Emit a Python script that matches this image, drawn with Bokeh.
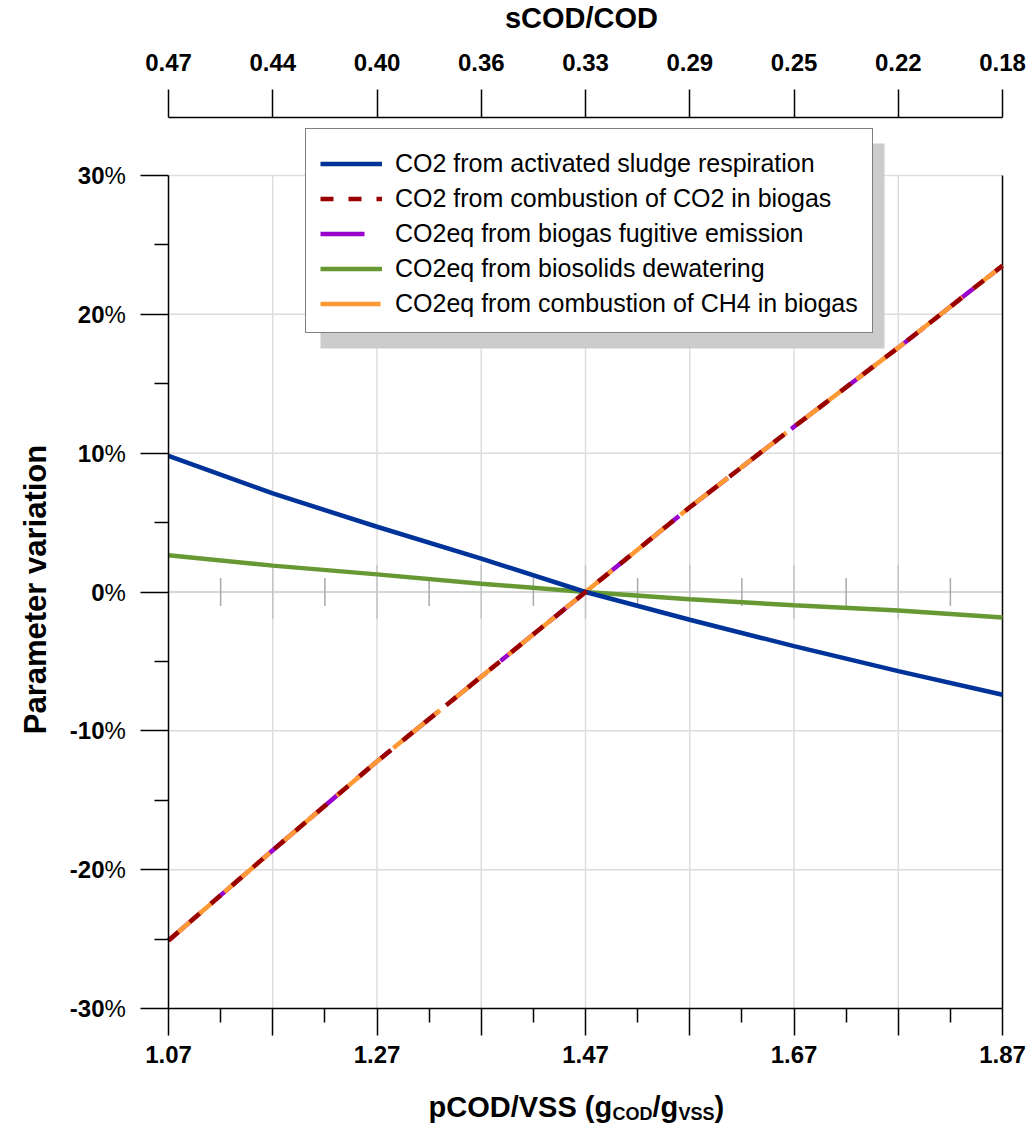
import math
from bokeh.plotting import figure
from bokeh.models import (Range1d, LinearAxis, FixedTicker, Legend, LegendItem,
                          BoxAnnotation, Label, LabelSet, ColumnDataSource)
from bokeh.core.properties import value
from bokeh.embed import file_html
from bokeh.resources import INLINE

# ---------------- data ----------------
pcod = [1.07, 1.17, 1.27, 1.37, 1.47, 1.57, 1.67, 1.77, 1.87]
scod_labels = ["0.47", "0.44", "0.40", "0.36", "0.33", "0.29", "0.25", "0.22", "0.18"]
pcod_minor = [1.12, 1.22, 1.32, 1.42, 1.52, 1.62, 1.72, 1.82]
pcod_shown = ["1.07", "", "1.27", "", "1.47", "", "1.67", "", "1.87"]

resp_co2 = [9.8, 7.1, 4.7, 2.4, 0.0, -2.0, -3.9, -5.7, -7.4]
comb_co2 = [-25.1, -18.6, -12.2, -6.1, 0.0, 6.1, 11.9, 17.6, 23.5]
fugitive = [-25.1, -18.6, -12.2, -6.1, 0.0, 6.1, 11.9, 17.6, 23.5]
dewater = [2.65, 1.9, 1.27, 0.6, 0.0, -0.53, -0.96, -1.33, -1.83]
comb_ch4 = [-25.1, -18.6, -12.2, -6.1, 0.0, 6.1, 11.9, 17.6, 23.5]

y_major = [-30, -20, -10, 0, 10, 20, 30]
y_minor = [-25, -15, -5, 5, 15, 25]
y_labels = ["-30", "-20", "-10", "0", "10", "20", "30"]

names = ["CO2 from activated sludge respiration",
         "CO2 from combustion of CO2 in biogas",
         "CO2eq from biogas fugitive emission",
         "CO2eq from biosolids dewatering",
         "CO2eq from combustion of CH4 in biogas"]

# ---------------- geometry helpers (page px -> data) ----------------
W, H = 1032, 1131
FL, FR, FT, FB = 168, 1002, 117, 1008   # plot area on page
Y30 = 175
XPX = (FR - FL) / (pcod[-1] - pcod[0])
YPX = (FB - Y30) / 60.0


def px_x(px):
    return pcod[0] + (px - FL) / XPX


def px_y(py):
    return -30 + (FB - py) / YPX


FONT = "Liberation Sans"

p = figure(width=W, height=H,
           x_range=Range1d(px_x(0), px_x(W)), y_range=Range1d(px_y(H), px_y(0)),
           output_backend="svg", toolbar_location=None,
           x_axis_type=None, y_axis_type=None,
           min_border_left=0, min_border_right=0, min_border_top=0, min_border_bottom=0)
p.outline_line_color = None
p.background_fill_color = "white"

# ---------------- grid lines ----------------
inner_x = pcod[1:-1]
p.segment(x0=inner_x, y0=[-30] * len(inner_x), x1=inner_x, y1=[30] * len(inner_x),
          line_color="#dddddd", line_width=1.5)
hy = [v for v in y_major if v not in (-30, 0)]
p.segment(x0=[pcod[0]] * len(hy), y0=hy, x1=[pcod[-1]] * len(hy), y1=hy,
          line_color="#dddddd", line_width=1.5)
p.segment(x0=[pcod[0]], y0=[0], x1=[pcod[-1]], y1=[0], line_color="#c8c8c8", line_width=1.5)
# ticks on the zero line
p.segment(x0=pcod_minor, y0=[-1.0] * len(pcod_minor), x1=pcod_minor, y1=[1.0] * len(pcod_minor),
          line_color="#a8a8a8", line_width=1.5)
p.segment(x0=inner_x, y0=[-1.95] * len(inner_x), x1=inner_x, y1=[1.95] * len(inner_x),
          line_color="#c4c4c4", line_width=1.5)
# right border
p.segment(x0=[pcod[-1]], y0=[-30], x1=[pcod[-1]], y1=[30], line_color="black", line_width=1.5)

# ---------------- series ----------------
r_fug = p.line(pcod, fugitive, line_color="#9900cc", line_width=4.5, line_dash="44 18")
r_ch4 = p.line(pcod, comb_ch4, line_color="#ff9933", line_width=4.5, line_dash="60 14")
r_dew = p.line(pcod, dewater, line_color="#669933", line_width=4.5)
r_resp = p.line(pcod, resp_co2, line_color="#003399", line_width=4.5)
r_co2 = p.line(pcod, comb_co2, line_color="#990000", line_width=4.5, line_dash="13 15")

# ---------------- axes ----------------
axis_style = dict(axis_line_width=1.5, axis_line_color="black",
                  major_tick_line_width=1.5, minor_tick_line_width=1.5,
                  major_tick_in=0, minor_tick_in=0,
                  major_label_text_font=FONT, major_label_text_font_style="bold",
                  major_label_text_font_size="24px", major_label_text_color="black")

left = LinearAxis(ticker=FixedTicker(ticks=y_major, minor_ticks=y_minor),
                  fixed_location=pcod[0], bounds=(-30, 30),
                  major_tick_out=28, minor_tick_out=14, major_label_standoff=36,
                  major_label_overrides=dict(zip(y_major, y_labels)), **axis_style)
p.add_layout(left, "left")

bottom = LinearAxis(ticker=FixedTicker(ticks=pcod, minor_ticks=pcod_minor),
                    fixed_location=-30, bounds=(pcod[0], pcod[-1]),
                    major_tick_out=27, minor_tick_out=14, major_label_standoff=10,
                    major_label_overrides=dict(zip(pcod, pcod_shown)), **axis_style)
p.add_layout(bottom, "below")

top = LinearAxis(ticker=FixedTicker(ticks=pcod, minor_ticks=[]),
                 fixed_location=px_y(FT), bounds=(pcod[0], pcod[-1]),
                 major_tick_out=28, minor_tick_out=0, major_label_standoff=19,
                 major_label_overrides=dict(zip(pcod, scod_labels)), **axis_style)
p.add_layout(top, "above")

# "%" in regular weight next to the bold numbers
pct_src = ColumnDataSource(dict(y=y_major))
p.add_layout(LabelSet(x=px_x(104), y="y", text=value("%"), source=pct_src,
                      text_font=value(FONT), text_font_size="24px", text_color="black",
                      text_align="left", text_baseline="middle"))

# ---------------- titles ----------------
p.add_layout(Label(x=px_x(581), y=px_y(17), text="sCOD/COD", text_font=FONT,
                   text_font_style="bold", text_font_size="29px", text_align="center",
                   text_baseline="alphabetic", text_color="black"))
p.add_layout(Label(x=px_x(35), y=px_y(589), text="Parameter variation", angle=math.pi / 2,
                   text_font=FONT, text_font_style="bold", text_font_size="31px",
                   text_align="center", text_baseline="middle", text_color="black"))

xl_parts = [("pCOD/VSS (g", 428, 0, "29px"), ("COD", 612, 7, "18px"), ("/g", 652, 0, "29px"),
            ("VSS", 678, 7, "18px"), (")", 714, 0, "29px")]
for txt, xp, dy, fs in xl_parts:
    p.add_layout(Label(x=px_x(xp), y=px_y(1106 + dy), text=txt, text_font=FONT,
                       text_font_style="bold", text_font_size=fs, text_align="left",
                       text_baseline="alphabetic", text_color="black"))

# ---------------- legend with shadow ----------------
p.add_layout(BoxAnnotation(left=px_x(320), right=px_x(884), top=px_y(143), bottom=px_y(348),
                           fill_color="#cccccc", fill_alpha=1.0, line_color=None))
legend = Legend(items=[LegendItem(label=names[0], renderers=[r_resp]),
                       LegendItem(label=names[1], renderers=[r_co2]),
                       LegendItem(label=names[2], renderers=[r_fug]),
                       LegendItem(label=names[3], renderers=[r_dew]),
                       LegendItem(label=names[4], renderers=[r_ch4])],
                location=(305, H - 333), glyph_width=62, glyph_height=29,
                label_height=29, label_standoff=13, padding=14, spacing=6, margin=0,
                label_text_font=FONT, label_text_font_size="25px", label_text_color="black",
                border_line_color="black", border_line_width=1.5,
                background_fill_color="white", background_fill_alpha=1.0,
                title=" ", title_text_font_size="6px", title_standoff=0)
p.add_layout(legend)

open("out.html", "w").write(file_html(p, INLINE))
